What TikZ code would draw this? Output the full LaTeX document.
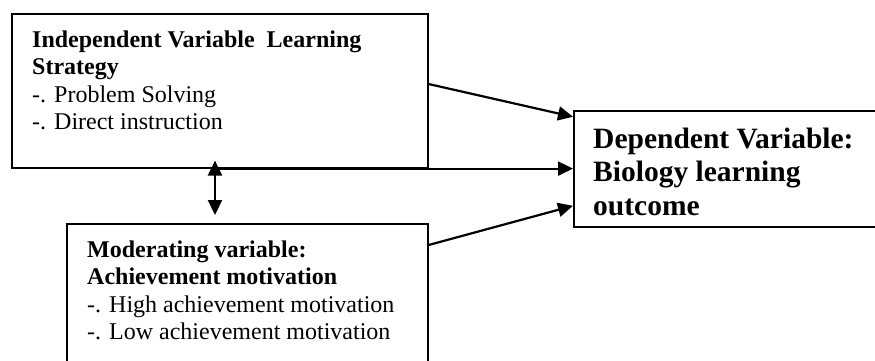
\documentclass[tikz,border=0pt]{standalone}
\usepackage{fontspec}
\setmainfont{Liberation Serif}
\usetikzlibrary{arrows.meta, calc}

\begin{document}
\begin{tikzpicture}[x=1pt, y=-1pt, >={Triangle[length=15pt, width=14pt]},
  box/.style={rectangle, draw, line width=1.6pt, inner sep=0pt, anchor=north west},
  txt/.style={anchor=north west, inner sep=0pt, align=left, font=\fontsize{24}{27.5}\selectfont},
  link/.style={->, line width=2.2pt}]
\useasboundingbox (0,0) rectangle (875,360);

\node (iv) [box, minimum width=416pt, minimum height=154pt] at (11,13) {};
\node (mv) [box, minimum width=361pt, minimum height=145pt] at (66,223) {};
\node (dv) [box, minimum width=310pt, minimum height=116pt] at (573,110) {};

\node (ivtext) [txt] at ([shift={(21,16)}]iv.north west)
  {\rule{0pt}{18pt}\textbf{Independent Variable~ Learning}\\
   \textbf{Strategy}\\
   -. Problem Solving\\
   -. Direct instruction};
\node (mvtext) [txt] at ([shift={(21,16)}]mv.north west)
  {\rule{0pt}{18pt}\textbf{Moderating variable:}\\
   \textbf{Achievement motivation}\\
   -. High achievement motivation\\
   -. Low achievement motivation};
\node (dvtext) [txt, font=\fontsize{29.5}{33.5}\selectfont\bfseries] at ([shift={(20,16)}]dv.north west)
  {\rule{0pt}{22pt}Dependent Variable:\\
   Biology learning\\
   outcome};

\coordinate (split) at ([xshift=204pt]iv.south west);

\draw[link] ([yshift=-71pt]iv.north east) -- ([yshift=52pt]dv.west);
\draw[link] (split) -- (split -| dv.west);
\draw[link] ([yshift=-22pt]mv.north east) -- ([yshift=-37pt]dv.west);
\draw[link, <->] ($(split |- mv.north)+(0,-8)$) -- ($(split)+(0,-8)$);
\end{tikzpicture}
\end{document}
